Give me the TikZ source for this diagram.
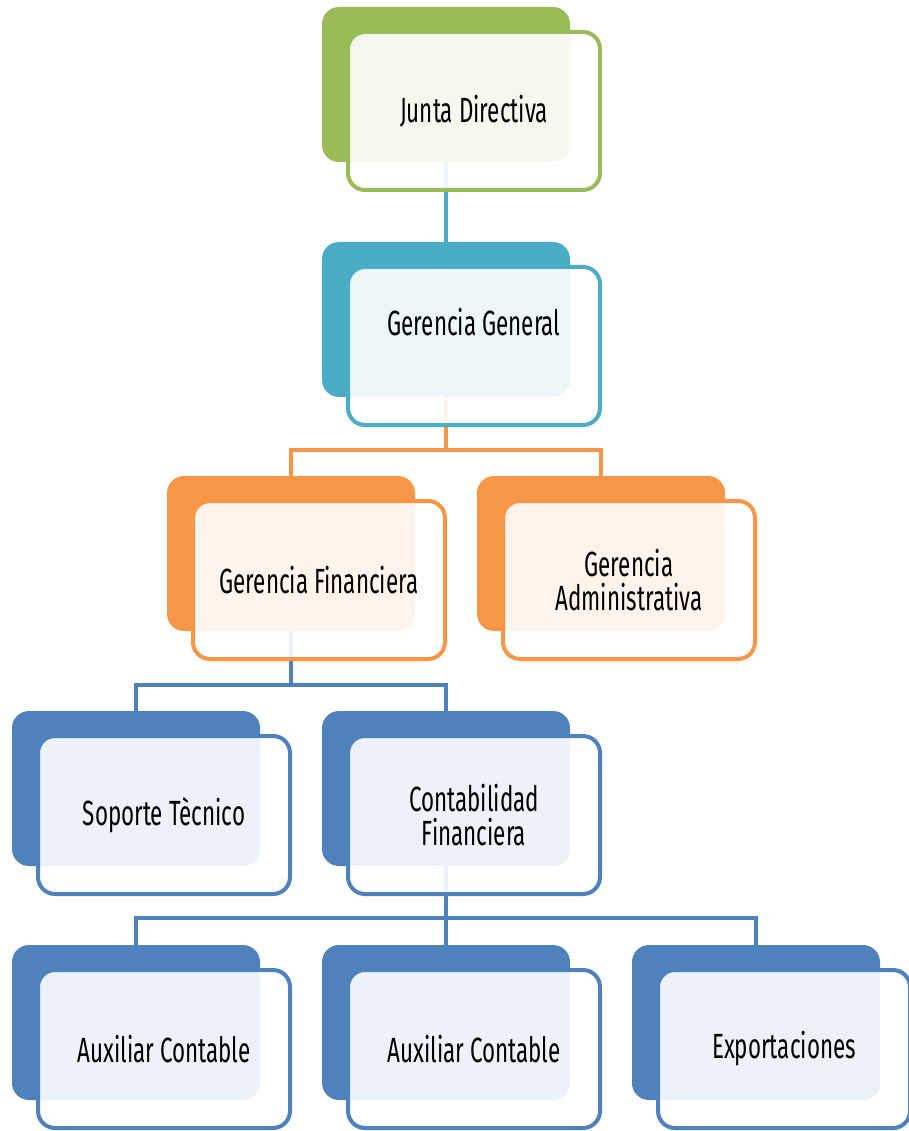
\documentclass[tikz,border=0pt]{standalone}
\usepackage{fontspec}
\setmainfont{Fira Sans}[FakeStretch=0.64]
\usetikzlibrary{backgrounds}
\definecolor{cgreen}{HTML}{9BBB59}
\definecolor{cteal}{HTML}{4BACC6}
\definecolor{corange}{HTML}{F79646}
\definecolor{cblue}{HTML}{4F81BD}
\tikzset{
  backbox/.style={fill=#1, draw=none, rounded corners=17pt, minimum width=248pt, minimum height=155pt, inner sep=0pt},
  frontbox/.style={draw=#1, line width=4pt, fill=white, fill opacity=0.9, rounded corners=17pt, minimum width=252pt, minimum height=158pt, inner sep=0pt},
  label/.style={align=center, font=\fontsize{35pt}{34pt}\selectfont, text=black, inner sep=0pt},
  conn/.style={draw=#1, line width=4pt}
}
\newcommand{\orgunit}[6]{%
  \node[backbox=#4] (#1) at (#2,#3) {};
  \node[frontbox=#4] (#1f) at ([shift={(28pt,-26.5pt)}]#1.center) {};
  \node[label] (#1t) at ([yshift=#6]#1f.center) {#5};
}
\begin{document}
\begin{tikzpicture}[x=1pt,y=-1pt]
\useasboundingbox (0,0) rectangle (908,1131);
\orgunit{jd}{446}{84.5}{cgreen}{Junta Directiva}{0pt}
\orgunit{gg}{446}{319.5}{cteal}{Gerencia General}{24pt}
\orgunit{gf}{291}{553.5}{corange}{Gerencia Financiera}{0pt}
\orgunit{ga}{601}{553.5}{corange}{Gerencia\\Administrativa}{0pt}
\orgunit{st}{136}{788.5}{cblue}{Soporte Tècnico}{0pt}
\orgunit{cf}{446}{788.5}{cblue}{Contabilidad\\Financiera}{0pt}
\orgunit{aa}{136}{1022.5}{cblue}{Auxiliar Contable}{0pt}
\orgunit{ab}{446}{1022.5}{cblue}{Auxiliar Contable}{0pt}
\orgunit{ex}{756}{1022.5}{cblue}{Exportaciones}{0pt}
\begin{scope}[on background layer]
  \draw[conn=cteal] (jd.south) -- (gg.north);
  \draw[conn=corange] (gg.south) -- ++(0,53) -| (gf.north);
  \draw[conn=corange] (gg.south) -- ++(0,53) -| (ga.north);
  \draw[conn=cblue] (gf.south) -- ++(0,54) -| (st.north);
  \draw[conn=cblue] (gf.south) -- ++(0,54) -| (cf.north);
  \draw[conn=cblue] (cf.south) -- ++(0,52) -| (aa.north);
  \draw[conn=cblue] (cf.south) -- ++(0,52) -| (ab.north);
  \draw[conn=cblue] (cf.south) -- ++(0,52) -| (ex.north);
\end{scope}
\end{tikzpicture}
\end{document}
